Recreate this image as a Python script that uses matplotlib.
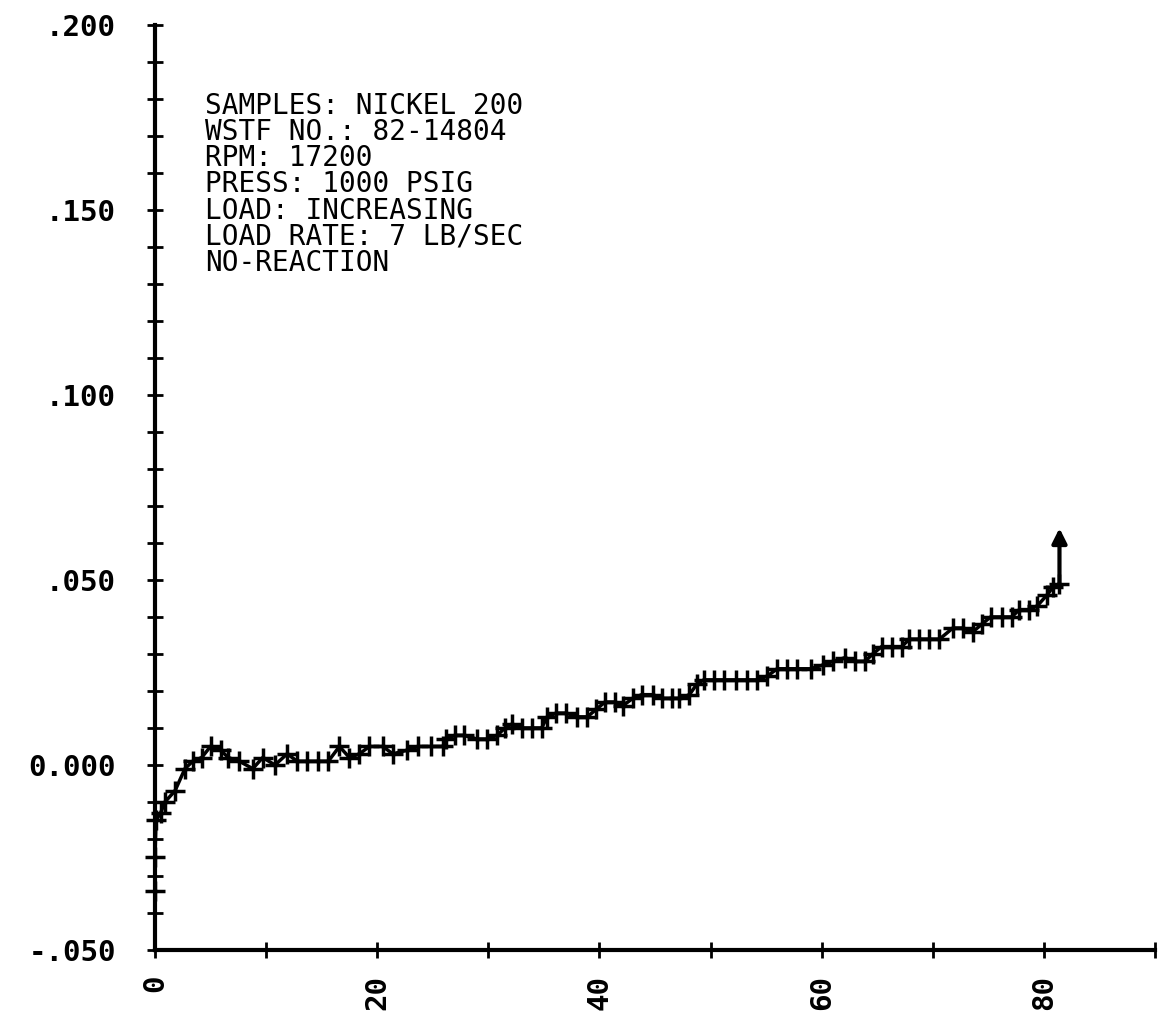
"""Plotter-style load test trace: NICKEL 200, no reaction"""
import matplotlib
matplotlib.use("Agg")
import matplotlib.pyplot as plt
from matplotlib.ticker import MultipleLocator, FixedLocator, FixedFormatter

###########################################################################
# data
x_vals = [0.0, 0.0, 0.1, 0.5, 0.9, 1.8, 2.7, 3.4, 4.2, 5.0,
          5.9, 6.6, 7.6, 8.8, 9.7, 10.8, 11.9, 12.8, 13.7, 14.7,
          15.6, 16.6, 17.5, 18.4, 19.3, 20.5, 21.4, 22.7, 23.7, 24.8,
          25.9, 26.2, 27.0, 27.8, 29.0, 29.9, 30.8, 31.5, 32.1, 33.0,
          33.9, 34.8, 35.3, 36.1, 37.0, 38.0, 38.9, 39.7, 40.5, 41.4,
          42.1, 43.0, 43.8, 44.8, 45.6, 46.5, 47.2, 48.1, 48.8, 49.4,
          50.3, 51.2, 52.3, 53.3, 54.2, 55.1, 56.0, 56.9, 57.8, 59.0,
          60.1, 61.0, 62.1, 63.0, 63.9, 64.6, 65.4, 66.3, 67.2, 67.9,
          68.8, 69.7, 70.6, 71.8, 72.7, 73.6, 74.4, 75.2, 76.2, 77.1,
          77.8, 78.7, 79.4, 80.3, 80.8, 81.4]
y_vals = [-0.034, -0.025, -0.015, -0.013, -0.010, -0.007, -0.001, 0.001, 0.002, 0.005,
          0.004, 0.002, 0.001, -0.001, 0.002, 0.000, 0.003, 0.001, 0.001, 0.001,
          0.001, 0.005, 0.002, 0.003, 0.005, 0.005, 0.003, 0.004, 0.005, 0.005,
          0.005, 0.007, 0.008, 0.008, 0.007, 0.007, 0.008, 0.010, 0.011, 0.010,
          0.010, 0.010, 0.013, 0.014, 0.014, 0.013, 0.013, 0.015, 0.017, 0.017,
          0.016, 0.018, 0.019, 0.019, 0.018, 0.018, 0.018, 0.019, 0.022, 0.023,
          0.023, 0.023, 0.023, 0.023, 0.023, 0.024, 0.026, 0.026, 0.026, 0.026,
          0.027, 0.028, 0.029, 0.028, 0.028, 0.030, 0.032, 0.032, 0.032, 0.034,
          0.034, 0.034, 0.034, 0.037, 0.037, 0.036, 0.038, 0.040, 0.040, 0.040,
          0.042, 0.042, 0.043, 0.046, 0.048, 0.049]
ARROW_TOP = 0.064

y_tick_vals = [-0.05, 0.0, 0.05, 0.10, 0.15, 0.20]
y_tick_labels = ["-.050", "0.000", ".050", ".100", ".150", ".200"]
x_tick_vals = [0, 20, 40, 60, 80]
x_tick_labels = ["0", "20", "40", "60", "80"]

info_lines = [
    "SAMPLES: NICKEL 200",
    "WSTF NO.: 82-14804",
    "RPM: 17200",
    "PRESS: 1000 PSIG",
    "LOAD: INCREASING",
    "LOAD RATE: 7 LB/SEC",
    "NO-REACTION",
]

###########################################################################
# figure
MY_DPI = 100
WIDTH = 1166
HEIGHT = 1016
MONO = "DejaVu Sans Mono"

fig = plt.figure(figsize=(WIDTH / MY_DPI, HEIGHT / MY_DPI), dpi=MY_DPI)
ax = fig.add_axes([0.1329, 0.0650, 0.8577, 0.9104])

ax.plot(x_vals, y_vals, color="black", linewidth=2.5, marker="+",
        markersize=14, markeredgewidth=2.5, clip_on=False)
ax.annotate("", xy=(x_vals[-1], ARROW_TOP), xytext=(x_vals[-1], y_vals[-1]),
            arrowprops=dict(arrowstyle="-|>", color="black", lw=3,
                            mutation_scale=22, shrinkA=0, shrinkB=0))

ax.set_xlim(0, 90)
ax.set_ylim(-0.05, 0.2)

for side in ["top", "right"]:
    ax.spines[side].set_visible(False)
for side in ["left", "bottom"]:
    ax.spines[side].set_linewidth(3)

# y axis: crossing ticks every .01, labels every .05
ax.yaxis.set_major_locator(FixedLocator(y_tick_vals))
ax.yaxis.set_major_formatter(FixedFormatter(y_tick_labels))
ax.yaxis.set_minor_locator(MultipleLocator(0.01))
ax.tick_params(axis="y", which="both", direction="inout", length=12,
               width=2, pad=22, labelsize=21)

# x axis: ticks every 10, labels every 20, rotated
ax.xaxis.set_major_locator(FixedLocator(x_tick_vals))
ax.xaxis.set_major_formatter(FixedFormatter(x_tick_labels))
ax.xaxis.set_minor_locator(MultipleLocator(10))
ax.tick_params(axis="x", which="both", direction="inout", length=12,
               width=2, pad=12, labelsize=21)
plt.setp(ax.get_xticklabels(), rotation=90, va="top", ha="center")
for lbl in ax.get_yticklabels() + ax.get_xticklabels():
    lbl.set_fontweight("bold")
    lbl.set_family(MONO)

# info block
ax.text(0.05, 0.928, "\n".join(info_lines), transform=ax.transAxes,
        fontsize=20, va="top", ha="left", linespacing=0.92,
        family=MONO)

fig.savefig("out.png", dpi=MY_DPI)
